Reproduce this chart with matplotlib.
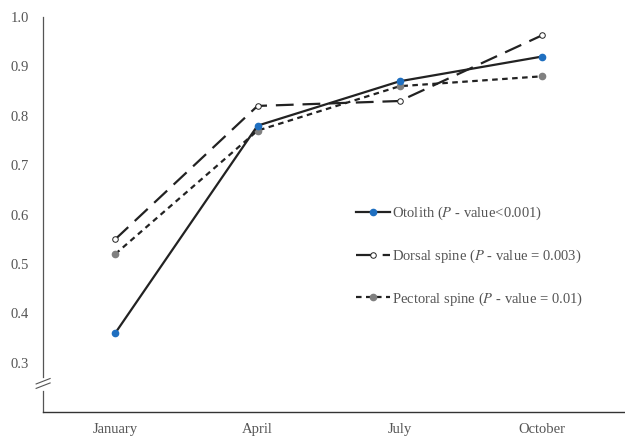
import matplotlib.pyplot as plt

plt.rcParams['font.family'] = ['Liberation Serif', 'DejaVu Serif']
plt.rcParams['mathtext.fontset'] = 'stix'

months = ['January', 'April', 'July', 'October']
otolith = [0.36, 0.78, 0.87, 0.92]
dorsal = [0.55, 0.82, 0.83, 0.963]
pectoral = [0.52, 0.77, 0.86, 0.88]
yticks = [0.3, 0.4, 0.5, 0.6, 0.7, 0.8, 0.9, 1.0]

labels = ['Otolith ($\\mathit{P}$ - value<0.001)',
          'Dorsal spine ($\\mathit{P}$ - value = 0.003)',
          'Pectoral spine ($\\mathit{P}$ - value = 0.01)']

fig = plt.figure(figsize=(6.25, 4.37), dpi=100)
ax = fig.add_axes([0.069, 0.057, 0.931, 0.904])
x = range(len(months))

ax.plot(x, otolith, color='#222222', lw=1.6, marker='o', ms=4.5,
        mfc='#1f6fc0', mec='#1f6fc0', label=labels[0], zorder=3)
ax.plot(x, dorsal, color='#222222', lw=1.6, dashes=(8, 4), marker='o', ms=4,
        mfc='white', mec='#222222', mew=0.7, label=labels[1], zorder=2)
ax.plot(x, pectoral, color='#222222', lw=1.6, dashes=(2.5, 2), marker='o', ms=4.5,
        mfc='#808080', mec='#808080', label=labels[2], zorder=2)

ax.set_xlim(-0.507, 3.583)
ax.set_ylim(0.2, 1.0)
ax.set_xticks(list(x))
ax.set_xticklabels(months)
ax.set_yticks(yticks)
ax.set_yticklabels(['%.1f' % v for v in yticks])
ax.tick_params(length=0, labelsize=10.5, labelcolor='#555555')
ax.tick_params(axis='x', pad=8)
ax.tick_params(axis='y', pad=10)

for s in ['top', 'right', 'left']:
    ax.spines[s].set_visible(False)
ax.spines['bottom'].set_color('#333333')
ax.spines['bottom'].set_linewidth(1.0)

# broken y axis
ax.plot([0, 0], [0.272, 1.0], transform=ax.get_yaxis_transform(), color='#555555',
        lw=0.9, clip_on=False)
ax.plot([0, 0], [0.2, 0.243], transform=ax.get_yaxis_transform(), color='#555555',
        lw=0.9, clip_on=False)
for dy in (0.0, 0.009):
    ax.plot([-0.012, 0.012], [0.248 + dy, 0.259 + dy], transform=ax.get_yaxis_transform(),
            color='#555555', lw=0.8, clip_on=False)

leg = ax.legend(loc='upper left', bbox_to_anchor=(0.528, 0.54), frameon=False,
                fontsize=10.5, labelspacing=1.75, handlelength=2.3,
                handletextpad=0.15, borderaxespad=0)
for t in leg.get_texts():
    t.set_color('#555555')

fig.savefig('out.png', dpi=100)
